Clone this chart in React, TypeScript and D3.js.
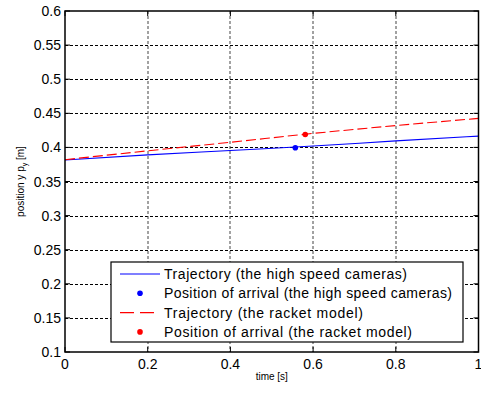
import React from "react";
import * as d3 from "d3";

// time axis samples [s]
const times = [0, 0.2, 0.4, 0.6, 0.8, 1.0];
// trajectory seen by the high speed cameras
const cameraY = [0.3815, 0.389, 0.3955, 0.402, 0.4095, 0.4165];
// trajectory from the racket model
const modelY = [0.382, 0.395, 0.4075, 0.4205, 0.432, 0.4425];
// arrival positions [t, y]
const cameraArrival = [0.557, 0.3995];
const modelArrival = [0.581, 0.419];

const xTicks = [0, 0.2, 0.4, 0.6, 0.8, 1];
const yTicks = [0.1, 0.15, 0.2, 0.25, 0.3, 0.35, 0.4, 0.45, 0.5, 0.55, 0.6];
const legendLabels = [
  "Trajectory (the high speed cameras)",
  "Position of arrival (the high speed cameras)",
  "Trajectory (the racket model)",
  "Position of arrival (the racket model)",
];
// rendered widths of the legend labels (the original font is wider)
const legendWidths = [243, 288, 199, 248];

const W = 481;
const H = 394;
const margin = { left: 65, right: 2.5, top: 11, bottom: 42 };

const App = () => {
  const x = d3.scaleLinear().domain([0, 1]).range([margin.left, W - margin.right]);
  const y = d3.scaleLinear().domain([0.1, 0.6]).range([H - margin.bottom, margin.top]);

  const line = d3
    .line<number>()
    .x((d, i) => x(times[i]))
    .y((d) => y(d))
    .curve(d3.curveMonotoneX);

  const x0 = x(0), x1 = x(1), y0 = y(0.1), y1 = y(0.6);
  const font = "'Liberation Sans', Arial, sans-serif";

  const lgX = 111, lgY = 262, lgW = 352, lgH = 80;
  const rowY = (i: number) => lgY + 12 + i * 19.3;

  return (
    <svg
      width={W}
      height={H}
      style={{ position: "absolute", left: 0, top: 0, background: "#fff" }}
      fontFamily={font}
    >
      <rect x={0} y={0} width={W} height={H} fill="#fff" />
      {/* grid */}
      {yTicks.slice(1, -1).map((t) => (
        <line
          key={"gy" + t}
          x1={x0}
          x2={x1}
          y1={Math.round(y(t)) + 0.5}
          y2={Math.round(y(t)) + 0.5}
          stroke="#000"
          strokeDasharray="3,2"
          strokeWidth={1}
        />
      ))}
      {xTicks.slice(1, -1).map((t) => (
        <line
          key={"gx" + t}
          x1={Math.round(x(t))}
          x2={Math.round(x(t))}
          y1={y1}
          y2={y0}
          stroke="#444"
          strokeDasharray="3,2"
          strokeWidth={1}
        />
      ))}
      {/* ticks */}
      {xTicks.map((t) => (
        <g key={"tx" + t}>
          <line x1={x(t)} x2={x(t)} y1={y0} y2={y0 - 5} stroke="#000" />
          <line x1={x(t)} x2={x(t)} y1={y1} y2={y1 + 5} stroke="#000" />
          <text x={x(t)} y={y0 + 17} fontSize={14} textAnchor="middle" fill="#000">
            {String(t)}
          </text>
        </g>
      ))}
      {yTicks.map((t) => (
        <g key={"ty" + t}>
          <line x1={x0} x2={x0 + 5} y1={y(t)} y2={y(t)} stroke="#000" />
          <line x1={x1} x2={x1 - 5} y1={y(t)} y2={y(t)} stroke="#000" />
          <text x={x0 - 4} y={y(t) + 5} fontSize={14} textAnchor="end" fill="#000">
            {String(t)}
          </text>
        </g>
      ))}
      {/* data */}
      <path d={line(cameraY) || ""} fill="none" stroke="#0000ff" strokeWidth={1.1} />
      <path
        d={line(modelY) || ""}
        fill="none"
        stroke="#ff0000"
        strokeWidth={1.1}
        strokeDasharray="10,4"
      />
      <circle cx={x(cameraArrival[0])} cy={y(cameraArrival[1])} r={2.8} fill="#0000ff" />
      <circle cx={x(modelArrival[0])} cy={y(modelArrival[1])} r={2.8} fill="#ff0000" />
      {/* frame */}
      <rect x={x0} y={y1} width={x1 - x0} height={y0 - y1} fill="none" stroke="#000" strokeWidth={1.5} />
      {/* legend */}
      <rect x={lgX} y={lgY} width={lgW} height={lgH} fill="#fff" stroke="#000" strokeWidth={1.2} />
      <line x1={120} x2={160} y1={rowY(0)} y2={rowY(0)} stroke="#0000ff" strokeWidth={1.1} />
      <circle cx={140} cy={rowY(1)} r={2.8} fill="#0000ff" />
      <line x1={120} x2={160} y1={rowY(2)} y2={rowY(2)} stroke="#ff0000" strokeWidth={1.1} strokeDasharray="14,6" />
      <circle cx={140} cy={rowY(3)} r={2.8} fill="#ff0000" />
      {legendLabels.map((l, i) => (
        <text
          key={l}
          x={164}
          y={rowY(i) + 5}
          fontSize={14}
          fill="#000"
          textLength={legendWidths[i]}
          lengthAdjust="spacing"
        >
          {l}
        </text>
      ))}
      {/* axis labels */}
      <text x={(x0 + x1) / 2} y={380} fontSize={10} textAnchor="middle" fill="#000">
        time [s]
      </text>
      <text
        transform={`translate(24, ${(y0 + y1) / 2}) rotate(-90)`}
        fontSize={10}
        textAnchor="middle"
        fill="#000"
      >
        position y p<tspan fontSize={7} dy={3}>y</tspan>
        <tspan dy={-3}> [m]</tspan>
      </text>
    </svg>
  );
};

export default App;
